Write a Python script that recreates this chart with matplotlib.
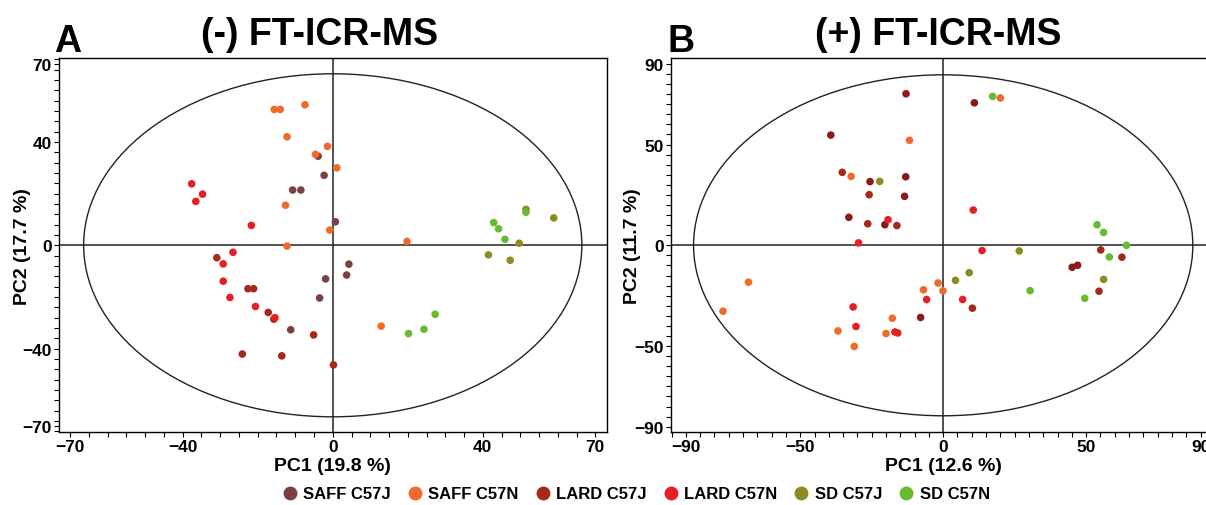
import matplotlib
matplotlib.use("Agg")
import matplotlib.pyplot as plt
from matplotlib.patches import Ellipse
from matplotlib.lines import Line2D
from matplotlib.ticker import FixedLocator, MultipleLocator

plt.rcParams['font.family'] = ['Liberation Sans', 'DejaVu Sans']
plt.rcParams['font.weight'] = 'bold'

# ---- group names and colours ----
groups = ["SAFF C57J", "SAFF C57N", "LARD C57J", "LARD C57N", "SD C57J", "SD C57N"]
group_colors = ["#7b4141", "#f06a2b", "#a3291b", "#e61e26", "#8c8c23", "#67bb32"]
# in the positive-mode panel SAFF C57J is drawn in a darker red
pos_group_colors = ["#8b1a1a", "#f06a2b", "#a3291b", "#e61e26", "#8c8c23", "#67bb32"]

# ---- (-) FT-ICR-MS scores ----
neg_saff_j_pc1 = [-3.9, -2.3, -10.7, -8.5, 0.7, 4.3, 3.7, -1.9, -3.5, -11.2]
neg_saff_j_pc2 = [34.5, 27.1, 21.4, 21.4, 9.1, -7.3, -11.5, -13.0, -20.4, -32.7]
neg_saff_n_pc1 = [-15.6, -14.0, -7.4, -12.2, -1.4, -4.6, 1.1, -12.6, -0.8, 19.8, -12.2, 12.9]
neg_saff_n_pc2 = [52.6, 52.6, 54.4, 42.0, 38.3, 35.2, 30.0, 15.5, 5.9, 1.5, -0.3, -31.3]
neg_lard_j_pc1 = [-30.9, -22.6, -21.1, -17.2, -15.7, -5.1, -24.1, -13.6, 0.2]
neg_lard_j_pc2 = [-4.8, -16.8, -16.8, -26.0, -28.6, -34.7, -42.1, -42.8, -46.3]
neg_lard_n_pc1 = [-37.6, -34.7, -36.5, -21.7, -26.6, -29.2, -29.2, -27.4, -20.6, -15.4]
neg_lard_n_pc2 = [23.8, 19.8, 17.0, 7.7, -2.7, -7.2, -13.9, -20.2, -23.7, -28.0]
neg_sd_j_pc1 = [51.5, 58.9, 49.7, 41.5, 47.3]
neg_sd_j_pc2 = [13.9, 10.6, 0.8, -3.7, -5.8]
neg_sd_n_pc1 = [51.5, 42.9, 44.2, 45.9, 27.3, 24.3, 20.2]
neg_sd_n_pc2 = [12.8, 8.8, 6.4, 2.3, -26.7, -32.5, -34.2]

# ---- (+) FT-ICR-MS scores ----
pos_saff_j_pc1 = [-13.0, 10.9, -39.3, -25.6, -13.1, -13.5, -33.0, -20.4, 45.1, 47.0, -7.9]
pos_saff_j_pc2 = [75.2, 70.7, 54.7, 31.6, 34.0, 24.3, 13.9, 10.2, -10.9, -9.9, -35.8]
pos_saff_n_pc1 = [20.0, -11.8, -32.2, -1.8, -6.9, -0.1, -17.8, -36.8, -20.0, -31.1, -68.1, -77.0]
pos_saff_n_pc2 = [73.1, 52.1, 34.2, -18.7, -22.1, -22.6, -36.2, -42.5, -43.8, -50.2, -18.3, -32.7]
pos_lard_j_pc1 = [-35.3, -25.9, -26.4, -16.2, 55.1, 62.5, 54.5, 10.2]
pos_lard_j_pc2 = [36.2, 25.1, 10.7, 9.8, -2.3, -5.9, -22.8, -31.2]
pos_lard_n_pc1 = [10.5, -19.3, -29.6, 13.6, -5.8, 6.8, -31.5, -30.5, -16.9, -15.9]
pos_lard_n_pc2 = [17.5, 12.7, 1.2, -2.6, -26.9, -26.9, -30.6, -40.3, -43.0, -43.5]
pos_sd_j_pc1 = [-22.2, 26.6, 9.1, 4.3, 56.1]
pos_sd_j_pc2 = [31.7, -2.8, -13.6, -17.4, -16.9]
pos_sd_n_pc1 = [17.3, 53.8, 56.1, 64.1, 58.1, 30.4, 49.5]
pos_sd_n_pc2 = [73.9, 10.2, 6.4, 0.0, -5.8, -22.5, -26.3]

neg_scores = [(neg_saff_j_pc1, neg_saff_j_pc2), (neg_saff_n_pc1, neg_saff_n_pc2),
              (neg_lard_j_pc1, neg_lard_j_pc2), (neg_lard_n_pc1, neg_lard_n_pc2),
              (neg_sd_j_pc1, neg_sd_j_pc2), (neg_sd_n_pc1, neg_sd_n_pc2)]
pos_scores = [(pos_saff_j_pc1, pos_saff_j_pc2), (pos_saff_n_pc1, pos_saff_n_pc2),
              (pos_lard_j_pc1, pos_lard_j_pc2), (pos_lard_n_pc1, pos_lard_n_pc2),
              (pos_sd_j_pc1, pos_sd_j_pc2), (pos_sd_n_pc1, pos_sd_n_pc2)]

# Hotelling T2 ellipse half-widths (PC1, PC2)
neg_ellipse = (66.4, 66.4)
pos_ellipse = (87.3, 84.6)

W, H = 1206, 506
fig = plt.figure(figsize=(W / 100, H / 100), dpi=100)


def score_panel(rect, scores, palette, ellipse, lim, ticks, step, xlabel, ylabel, ypad):
    ax = fig.add_axes(rect)
    ax.set_xlim(-lim[0], lim[0])
    ax.set_ylim(-lim[1], lim[1])
    ax.add_patch(Ellipse((0, 0), 2 * ellipse[0], 2 * ellipse[1], fill=False,
                         lw=1.0, ec="#222222", zorder=1))
    ax.axhline(0, color="#222222", lw=1.1, zorder=1)
    ax.axvline(0, color="#222222", lw=1.1, zorder=1)
    for (pc1, pc2), c in zip(scores, palette):
        ax.scatter(pc1, pc2, s=30, color=c, edgecolors="none", zorder=3)
    for side in ("top", "right", "left", "bottom"):
        ax.spines[side].set_linewidth(1.0)
        ax.spines[side].set_color("black")
    ax.xaxis.set_major_locator(FixedLocator(ticks[0]))
    ax.yaxis.set_major_locator(FixedLocator(ticks[1]))
    ax.xaxis.set_minor_locator(MultipleLocator(step[0]))
    ax.yaxis.set_minor_locator(MultipleLocator(step[1]))
    ax.tick_params(which="both", direction="out", length=3.5, width=0.8,
                   labelsize=12.5, pad=1.5, top=False, right=False)
    for lab in ax.get_xticklabels() + ax.get_yticklabels():
        lab.set_fontweight("bold")
    ax.set_xlabel(xlabel, fontsize=14, fontweight="bold", labelpad=2)
    ax.set_ylabel(ylabel, fontsize=14, fontweight="bold", labelpad=ypad)
    return ax


bottom = (H - 433.3) / H
height = 374 / H
axA = score_panel([58.5 / W, bottom, (607 - 58.5) / W, height], neg_scores, group_colors,
                  neg_ellipse, (73.1, 72.4), ([-70, -40, 0, 40, 70], [-70, -40, 0, 40, 70]),
                  (5, 4), "PC1 (19.8 %)", "PC2 (17.7 %)", -6.5)
axB = score_panel([670.7 / W, bottom, 545 / W, height], pos_scores, pos_group_colors,
                  pos_ellipse, (95.3, 92.8), ([-90, -50, 0, 50, 90], [-90, -50, 0, 50, 90]),
                  (5, 5), "PC1 (12.6 %)", "PC2 (11.7 %)", -4.5)

fig.text(54 / W, 1 - 51.7 / H, "A", fontsize=27, fontweight="bold", va="baseline", ha="left")
fig.text(320 / W, 1 - 45 / H, "(-) FT-ICR-MS", fontsize=27, fontweight="bold",
         va="baseline", ha="center")
fig.text(667 / W, 1 - 51.7 / H, "B", fontsize=27, fontweight="bold", va="baseline", ha="left")
fig.text(938 / W, 1 - 45 / H, "(+) FT-ICR-MS", fontsize=27, fontweight="bold",
         va="baseline", ha="center")

handles = [Line2D([], [], ls="none", marker="o", markersize=10, color=c, markeredgecolor="none")
           for c in group_colors]
fig.legend(handles, groups, loc="center", bbox_to_anchor=(0.527, 0.022), ncol=6,
           frameon=False, fontsize=12, handletextpad=0.3, columnspacing=0.95,
           handlelength=1.0, borderaxespad=0)

fig.savefig("out.png", dpi=100)
